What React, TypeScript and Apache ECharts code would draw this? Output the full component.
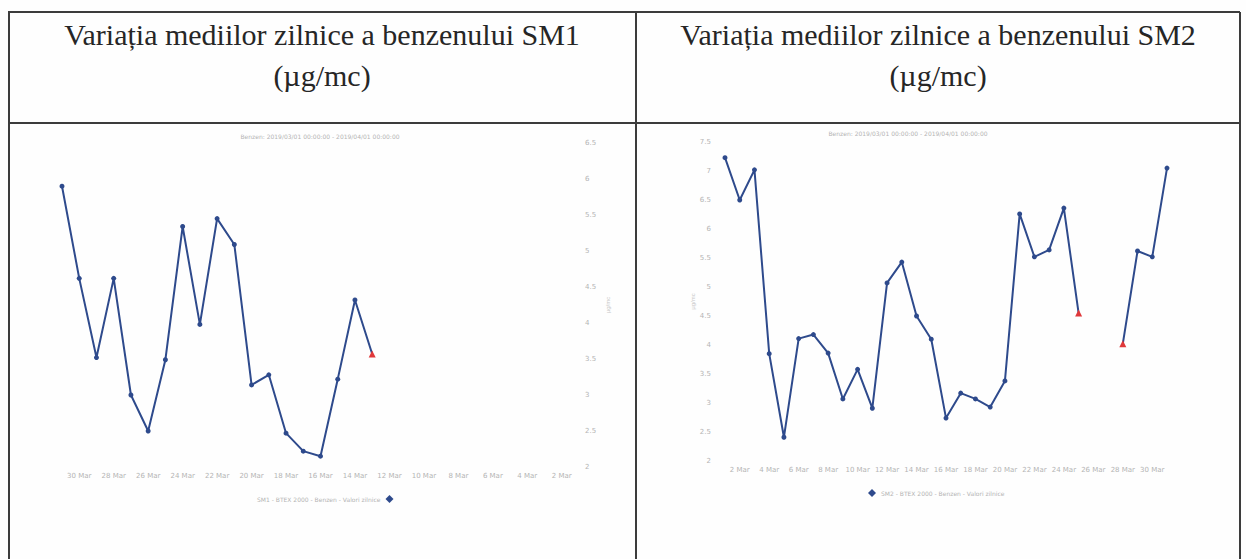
import React, { useEffect, useRef } from "react";
import * as echarts from "echarts";

const days = [
  "1 Mar", "2 Mar", "3 Mar", "4 Mar", "5 Mar", "6 Mar", "7 Mar", "8 Mar", "9 Mar", "10 Mar",
  "11 Mar", "12 Mar", "13 Mar", "14 Mar", "15 Mar", "16 Mar", "17 Mar", "18 Mar", "19 Mar", "20 Mar",
  "21 Mar", "22 Mar", "23 Mar", "24 Mar", "25 Mar", "26 Mar", "27 Mar", "28 Mar", "29 Mar", "30 Mar", "31 Mar",
];

const sm1Values = [
  null, null, null, null, null, null, null, null, null, null,
  null, null, 3.57, 4.32, 3.22, 2.15, 2.22, 2.47, 3.28, 3.14,
  5.09, 5.45, 3.98, 5.34, 3.49, 2.5, 3.0, 4.62, 3.52, 4.62, 5.9,
];
const sm1Flagged = ["13 Mar"];

const sm2Values = [
  7.23, 6.5, 7.02, 3.85, 2.41, 4.11, 4.18, 3.86, 3.07, 3.58,
  2.91, 5.07, 5.43, 4.5, 4.1, 2.74, 3.17, 3.07, 2.93, 3.38,
  6.26, 5.52, 5.64, 6.36, 4.55, null, null, 4.02, 5.62, 5.52, 7.05,
];
const sm2Flagged = ["25 Mar", "28 Mar"];

const titles = [
  "Variația mediilor zilnice a benzenului SM1",
  "Variația mediilor zilnice a benzenului SM2",
];
const unitLine = "(µg/mc)";
const subtitle = "Benzen: 2019/03/01 00:00:00 - 2019/04/01 00:00:00";
const seriesNames = [
  "SM1 - BTEX 2000 - Benzen - Valori zilnice",
  "SM2 - BTEX 2000 - Benzen - Valori zilnice",
];

const LINE = "#2e4a8c";
const FLAG = "#e0383a";
const FAINT = "#b4b4b4";
const BORDER = "#3c3c3c";
const SERIF = "'Liberation Serif', 'Times New Roman', serif";

function buildData(values: (number | null)[], flagged: string[]) {
  return values.map((v, i) =>
    flagged.includes(days[i]) && v !== null
      ? { value: v, symbol: "triangle", symbolSize: 7, itemStyle: { color: FLAG } }
      : v
  );
}

export default function App() {
  const ref = useRef<HTMLDivElement>(null);
  useEffect(() => {
    if (!ref.current) return;
    const chart = echarts.init(ref.current, null, { renderer: "svg" });
    const xAxisBase = {
      type: "category",
      data: days,
      boundaryGap: false,
      axisLine: { show: false },
      axisTick: { show: false },
      splitLine: { show: false },
      axisLabel: {
        interval: (idx: number) => idx % 2 === 1,
        color: FAINT,
        fontSize: 7,
        margin: 5,
        fontFamily: "DejaVu Sans",
      },
    };
    const yAxisBase = {
      type: "value",
      min: 2,
      interval: 0.5,
      splitLine: { show: false },
      axisLine: { show: false },
      axisTick: { show: false },
      axisLabel: { color: FAINT, fontSize: 7, fontFamily: "DejaVu Sans" },
      name: "µg/mc",
      nameLocation: "middle",
      nameTextStyle: { color: "#c8c8c8", fontSize: 6 },
    };
    chart.setOption({
      animation: false,
      backgroundColor: "#fefefe",
      title: [
        {
          text: subtitle,
          left: 315,
          top: 128,
          textAlign: "center",
          textStyle: { color: FAINT, fontSize: 6, fontWeight: "normal", fontFamily: "DejaVu Sans" },
        },
        {
          text: subtitle,
          left: 903,
          top: 125,
          textAlign: "center",
          textStyle: { color: FAINT, fontSize: 6, fontWeight: "normal", fontFamily: "DejaVu Sans" },
        },
      ],
      legend: [
        {
          data: [seriesNames[0]],
          left: 252,
          top: 490,
          align: "right",
          icon: "diamond",
          itemWidth: 8,
          itemHeight: 8,
          itemGap: 4,
          textStyle: { color: FAINT, fontSize: 6, fontFamily: "DejaVu Sans" },
        },
        {
          data: [seriesNames[1]],
          left: 863,
          top: 484,
          align: "left",
          icon: "diamond",
          itemWidth: 8,
          itemHeight: 8,
          itemGap: 4,
          textStyle: { color: FAINT, fontSize: 6, fontFamily: "DejaVu Sans" },
        },
      ],
      grid: [
        { left: 62, top: 143, width: 517, height: 324 },
        { left: 725, top: 142, width: 442, height: 319 },
      ],
      xAxis: [
        { ...xAxisBase, gridIndex: 0, inverse: true },
        { ...xAxisBase, gridIndex: 1 },
      ],
      yAxis: [
        { ...yAxisBase, gridIndex: 0, max: 6.5, position: "right", nameGap: 26, axisLabel: { ...yAxisBase.axisLabel, margin: 6 } },
        { ...yAxisBase, gridIndex: 1, max: 7.5, position: "left", nameGap: 28, axisLabel: { ...yAxisBase.axisLabel, margin: 14 } },
      ],
      series: [
        {
          name: seriesNames[0],
          type: "line",
          xAxisIndex: 0,
          yAxisIndex: 0,
          data: buildData(sm1Values, sm1Flagged),
          symbol: "circle",
          symbolSize: 5,
          lineStyle: { color: LINE, width: 2 },
          itemStyle: { color: LINE },
        },
        {
          name: seriesNames[1],
          type: "line",
          xAxisIndex: 1,
          yAxisIndex: 1,
          data: buildData(sm2Values, sm2Flagged),
          symbol: "circle",
          symbolSize: 5,
          lineStyle: { color: LINE, width: 2 },
          itemStyle: { color: LINE },
        },
      ],
      graphic: [
        { type: "line", shape: { x1: 8, y1: 12, x2: 1240, y2: 12 }, style: { stroke: BORDER, lineWidth: 2 } },
        { type: "line", shape: { x1: 8, y1: 123, x2: 1240, y2: 123 }, style: { stroke: BORDER, lineWidth: 2 } },
        { type: "line", shape: { x1: 9, y1: 12, x2: 9, y2: 559 }, style: { stroke: BORDER, lineWidth: 2 } },
        { type: "line", shape: { x1: 636, y1: 12, x2: 636, y2: 559 }, style: { stroke: BORDER, lineWidth: 2 } },
        { type: "line", shape: { x1: 1240, y1: 12, x2: 1240, y2: 559 }, style: { stroke: BORDER, lineWidth: 2 } },
        {
          type: "text",
          x: 322,
          y: 34,
          style: { text: titles[0], fill: "#262626", font: `30px ${SERIF}`, textAlign: "center", textVerticalAlign: "middle" },
        },
        {
          type: "text",
          x: 322,
          y: 75,
          style: { text: unitLine, fill: "#262626", font: `30px ${SERIF}`, textAlign: "center", textVerticalAlign: "middle" },
        },
        {
          type: "text",
          x: 938,
          y: 34,
          style: { text: titles[1], fill: "#262626", font: `30px ${SERIF}`, textAlign: "center", textVerticalAlign: "middle" },
        },
        {
          type: "text",
          x: 938,
          y: 75,
          style: { text: unitLine, fill: "#262626", font: `30px ${SERIF}`, textAlign: "center", textVerticalAlign: "middle" },
        },
      ],
    });
    return () => chart.dispose();
  }, []);
  return <div ref={ref} style={{ position: "absolute", left: 0, top: 0, width: 1246, height: 559 }} />;
}
